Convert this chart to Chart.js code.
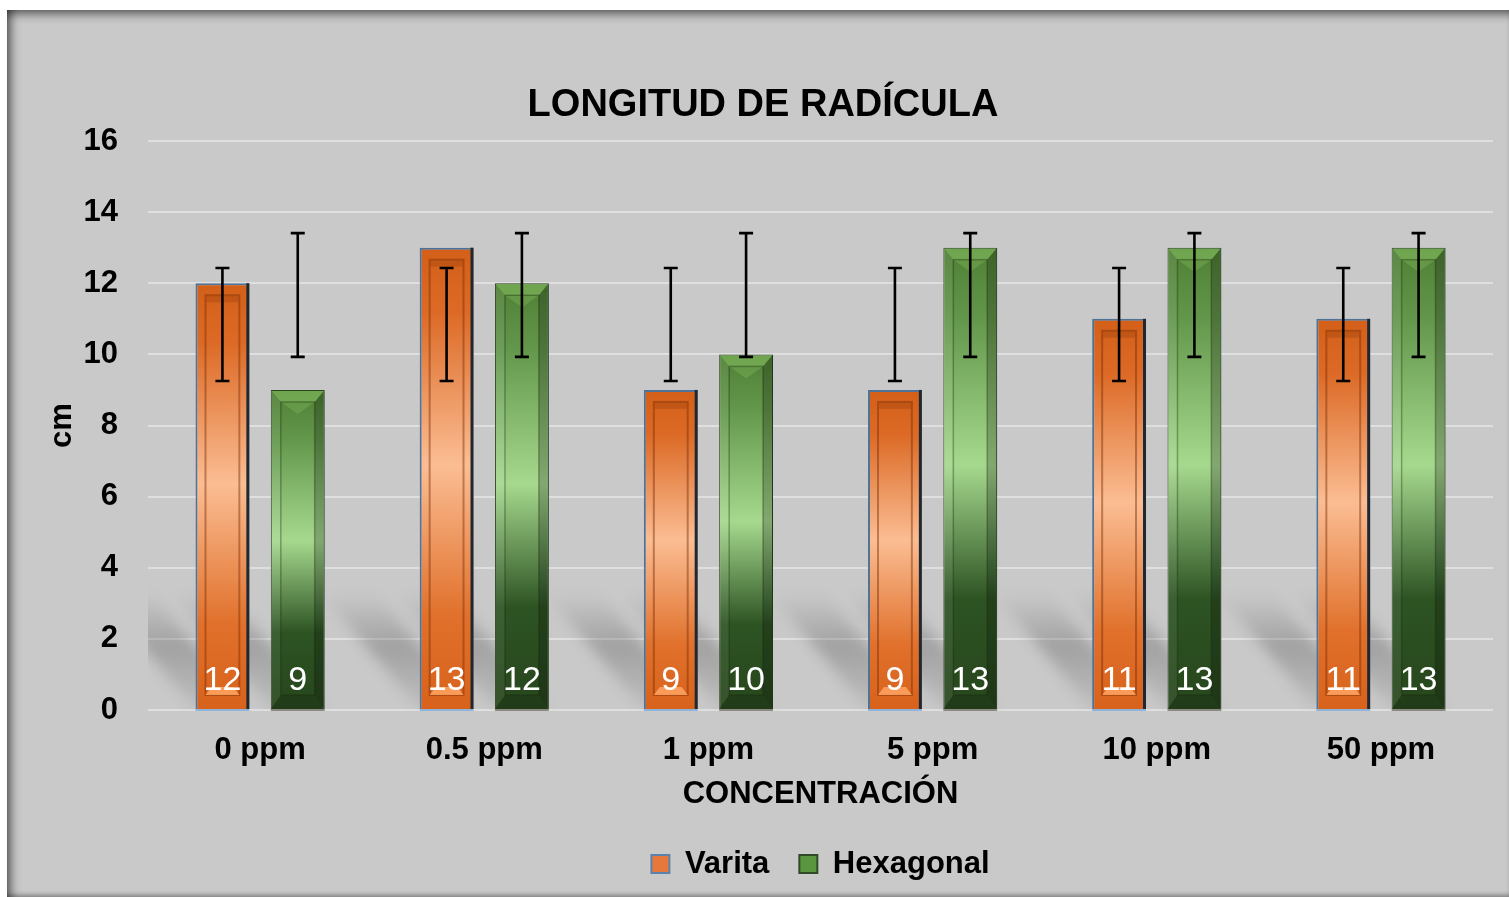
<!DOCTYPE html>
<html>
<head>
<meta charset="utf-8">
<script src="https://cdn.jsdelivr.net/npm/chart.js@4/dist/chart.umd.min.js"></script>
<style>
html,body{margin:0;padding:0;background:#fff;width:1509px;height:897px;overflow:hidden}
#wrap{position:absolute;left:7px;top:10px;width:1502px;height:887px;background:#c9c9c9;
 box-shadow: inset 0 11px 10px -7px rgba(0,0,0,0.55), inset 11px 0 10px -7px rgba(0,0,0,0.55), inset 0 -5px 5px -3px rgba(0,0,0,0.35);}
canvas{position:absolute;left:0;top:0}
</style>
</head>
<body>
<div id="wrap"><canvas id="c" width="1502" height="887"></canvas></div>
<script>
// ---- data ----
const categories = ['0 ppm', '0.5 ppm', '1 ppm', '5 ppm', '10 ppm', '50 ppm'];
const varita = [12, 13, 9, 9, 11, 11];
const hexagonal = [9, 12, 10, 13, 13, 13];
const varitaErrLow = [9.25, 9.25, 9.25, 9.25, 9.25, 9.25];
const varitaErrHigh = [12.43, 12.43, 12.43, 12.43, 12.43, 12.43];
const hexErrLow = [9.93, 9.93, 9.93, 9.93, 9.93, 9.93];
const hexErrHigh = [13.41, 13.41, 13.41, 13.41, 13.41, 13.41];
const yMin = 0, yMax = 16, yStep = 2;
const seriesNames = ['Varita', 'Hexagonal'];
const chartTitle = 'LONGITUD DE RADÍCULA';
const xTitle = 'CONCENTRACIÓN';
const yTitle = 'cm';

const FONT = "'Liberation Sans', Arial, sans-serif";
const ORANGE_STOPS = [[0,'#d35f18'],[0.14,'#dc6a26'],[0.47,'#fbbd93'],[0.8,'#e0702b'],[1,'#d8621b']];
const GREEN_STOPS = [[0,'#4f7f35'],[0.15,'#62964a'],[0.47,'#a6d98e'],[0.76,'#2d5323'],[1,'#27461d']];
const LEGEND_FILL = ['#e5783a', '#5a9640'];
const LEGEND_STROKE = ['#5b82aa', '#2f4a25'];

function barGradient(c, stops, fallback) {
  const chart = c.chart;
  if (c.type !== 'data' || !chart.chartArea || !chart.scales.y) return fallback;
  const ys = chart.scales.y;
  const top = ys.getPixelForValue(c.parsed.y);
  const base = ys.getPixelForValue(0);
  if (!isFinite(top) || !isFinite(base) || top === base) return fallback;
  const g = chart.ctx.createLinearGradient(0, top, 0, base);
  stops.forEach(s => g.addColorStop(s[0], s[1]));
  return g;
}

const errors = [[varitaErrLow, varitaErrHigh], [hexErrLow, hexErrHigh]];

const decorPlugin = {
  id: 'decor',
  beforeDatasetsDraw(chart) {
    const {ctx, chartArea: a} = chart;
    ctx.save();
    ctx.beginPath(); ctx.rect(a.left, a.top, a.width, a.height); ctx.clip();
    ctx.filter = 'blur(7px)';
    chart.data.datasets.forEach((ds, di) => {
      chart.getDatasetMeta(di).data.forEach(bar => {
        const w = bar.width, xL = bar.x - w / 2, xR = bar.x + w / 2, b = bar.base;
        const L = 115, dx = 0.85 * L;
        const g = ctx.createLinearGradient(0, b, 0, b - L);
        g.addColorStop(0, 'rgba(80,80,80,0.08)');
        g.addColorStop(0.55, 'rgba(80,80,80,0.33)');
        g.addColorStop(1, 'rgba(80,80,80,0.0)');
        ctx.fillStyle = g;
        ctx.beginPath();
        ctx.moveTo(xL, b); ctx.lineTo(xR, b); ctx.lineTo(xR - dx, b - L); ctx.lineTo(xL - dx, b - L);
        ctx.closePath(); ctx.fill();
      });
    });
    ctx.restore();
  },
  afterDatasetsDraw(chart) {
    const {ctx} = chart;
    const ys = chart.scales.y;
    // bevel overlay
    chart.data.datasets.forEach((ds, di) => {
      chart.getDatasetMeta(di).data.forEach(bar => {
        const w = bar.width, xL = bar.x - w / 2, xR = bar.x + w / 2, b = bar.base, t = bar.y;
        const ix = 10, it = 12, ib = 14;
        ctx.save();
        if (di === 0) {
          ctx.strokeStyle = 'rgba(120,45,5,0.45)'; ctx.lineWidth = 2;
          ctx.strokeRect(xL + ix, t + it, w - 2 * ix, b - ib - t - it);
          ctx.fillStyle = 'rgba(120,45,5,0.22)';
          ctx.fillRect(xL + ix + 1, t + it + 1, w - 2 * ix - 2, 6);
          ctx.fillStyle = 'rgba(255,165,100,0.85)';
          ctx.beginPath();
          ctx.moveTo(xL + ix + 6, b - ib - 8); ctx.lineTo(xR - ix - 6, b - ib - 8);
          ctx.lineTo(xR - ix, b - ib); ctx.lineTo(xL + ix, b - ib); ctx.closePath(); ctx.fill();
          ctx.fillStyle = '#1e2833'; ctx.fillRect(xR - 3, t, 3, b - t);
          ctx.fillStyle = '#8fb3d9'; ctx.fillRect(xL, b, w, 2);
        } else {
          ctx.fillStyle = 'rgba(150,210,110,0.45)';
          ctx.beginPath();
          ctx.moveTo(xL + 1, t + 1); ctx.lineTo(xR - 1, t + 1); ctx.lineTo(xR - ix, t + it); ctx.lineTo(xL + ix, t + it);
          ctx.closePath(); ctx.fill();
          ctx.fillStyle = 'rgba(140,200,100,0.3)';
          ctx.beginPath();
          ctx.moveTo(xL + ix, t + it); ctx.lineTo(xR - ix, t + it); ctx.lineTo(bar.x, t + it + 12);
          ctx.closePath(); ctx.fill();
          ctx.fillStyle = 'rgba(0,0,0,0.22)';
          ctx.beginPath();
          ctx.moveTo(xR, t); ctx.lineTo(xR, b); ctx.lineTo(xR - ix, b - ib); ctx.lineTo(xR - ix, t + it);
          ctx.closePath(); ctx.fill();
          ctx.fillStyle = 'rgba(255,255,255,0.07)';
          ctx.beginPath();
          ctx.moveTo(xL, t); ctx.lineTo(xL, b); ctx.lineTo(xL + ix, b - ib); ctx.lineTo(xL + ix, t + it);
          ctx.closePath(); ctx.fill();
          ctx.fillStyle = 'rgba(0,0,0,0.15)';
          ctx.beginPath();
          ctx.moveTo(xL, b); ctx.lineTo(xR, b); ctx.lineTo(xR - ix, b - ib); ctx.lineTo(xL + ix, b - ib);
          ctx.closePath(); ctx.fill();
          ctx.strokeStyle = 'rgba(20,40,10,0.35)'; ctx.lineWidth = 1.5;
          ctx.strokeRect(xL + ix, t + it, w - 2 * ix, b - ib - t - it);
          ctx.fillStyle = '#8a8a80'; ctx.fillRect(xL, b, w, 2);
        }
        ctx.restore();
      });
    });
    // error bars
    ctx.save();
    ctx.strokeStyle = '#000'; ctx.lineWidth = 2.6; ctx.lineCap = 'butt';
    chart.data.datasets.forEach((ds, di) => {
      const [lo, hi] = errors[di];
      chart.getDatasetMeta(di).data.forEach((bar, i) => {
        const yl = ys.getPixelForValue(lo[i]), yh = ys.getPixelForValue(hi[i]);
        ctx.beginPath();
        ctx.moveTo(bar.x, yl); ctx.lineTo(bar.x, yh);
        ctx.moveTo(bar.x - 7, yl); ctx.lineTo(bar.x + 7, yl);
        ctx.moveTo(bar.x - 7, yh); ctx.lineTo(bar.x + 7, yh);
        ctx.stroke();
      });
    });
    ctx.restore();
    // data labels
    ctx.save();
    ctx.fillStyle = '#fff';
    ctx.font = '34px ' + FONT;
    ctx.textAlign = 'center'; ctx.textBaseline = 'middle';
    chart.data.datasets.forEach((ds, di) => {
      chart.getDatasetMeta(di).data.forEach((bar, i) => {
        ctx.fillText(String(ds.data[i]), bar.x, bar.base - 28);
      });
    });
    ctx.restore();
  }
};

new Chart(document.getElementById('c'), {
  type: 'bar',
  data: {
    labels: categories,
    datasets: [
      {
        label: seriesNames[0], data: varita,
        backgroundColor: c => barGradient(c, ORANGE_STOPS, '#e07a3a'),
        borderColor: '#4f7396', borderWidth: {left: 2, top: 2, right: 0, bottom: 0},
        categoryPercentage: 0.672, barPercentage: 0.715
      },
      {
        label: seriesNames[1], data: hexagonal,
        backgroundColor: c => barGradient(c, GREEN_STOPS, '#4e8a36'),
        borderColor: '#2c4521', borderWidth: {left: 1, top: 1, right: 1, bottom: 0},
        categoryPercentage: 0.672, barPercentage: 0.715
      }
    ]
  },
  options: {
    responsive: false, animation: false, devicePixelRatio: 1,
    layout: {padding: {left: 26, right: 16, top: 0, bottom: 7.5}},
    plugins: {
      title: {
        display: true, text: chartTitle, color: '#000',
        font: {family: FONT, size: 38, weight: 'bold'},
        padding: {top: 72.7, bottom: 12.7}
      },
      legend: {
        position: 'bottom', fullSize: false,
        labels: {
          color: '#000', font: {family: FONT, size: 31, weight: 'bold'},
          boxWidth: 18, boxHeight: 18, padding: 30,
          generateLabels: chart => {
            const items = Chart.defaults.plugins.legend.labels.generateLabels(chart);
            items.forEach((it, i) => {
              it.fillStyle = LEGEND_FILL[i];
              it.strokeStyle = LEGEND_STROKE[i];
              it.lineWidth = 2;
            });
            return items;
          }
        }
      },
      tooltip: {enabled: false}
    },
    scales: {
      x: {
        grid: {display: false}, border: {display: false},
        ticks: {color: '#000', font: {family: FONT, size: 31, weight: 'bold'}, padding: 13.4},
        title: {display: true, text: xTitle, color: '#000', font: {family: FONT, size: 31, weight: 'bold'}, padding: {top: 0, bottom: 5.9}},
        afterFit: s => { s.height = 108.5; }
      },
      y: {
        min: yMin, max: yMax,
        grid: {color: '#dfdfdf', lineWidth: 2, drawTicks: false}, border: {display: false},
        ticks: {stepSize: yStep, color: '#000', font: {family: FONT, size: 31, weight: 'bold'}, padding: 30},
        title: {display: true, text: yTitle, color: '#000', font: {family: FONT, size: 31, weight: 'bold'}, padding: {top: 10.4, bottom: 0}},
        afterFit: s => { s.width = 115; }
      }
    }
  },
  plugins: [decorPlugin]
});
</script>
</body>
</html>
